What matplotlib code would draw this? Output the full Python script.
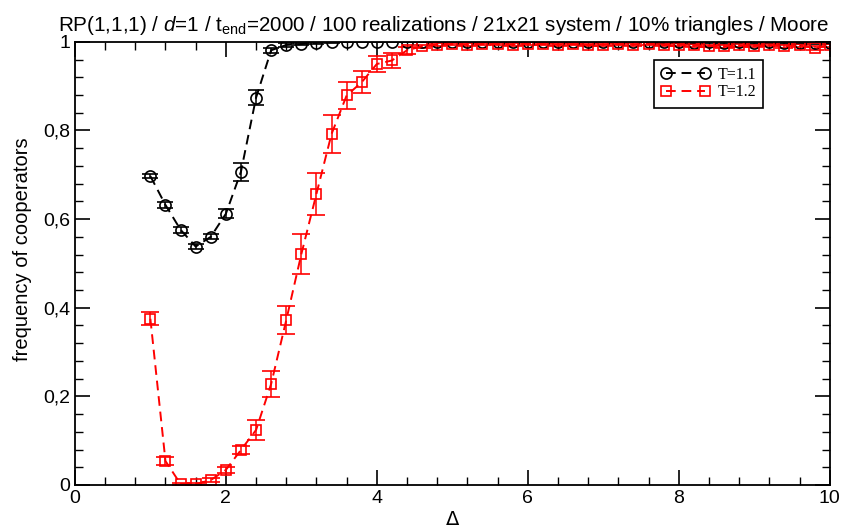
import matplotlib
matplotlib.use('Agg')
import matplotlib.pyplot as plt
from matplotlib.lines import Line2D
from matplotlib.ticker import MultipleLocator, FuncFormatter
from matplotlib import font_manager

names = {f.name for f in font_manager.fontManager.ttflist}
sans = 'Liberation Sans Narrow' if 'Liberation Sans Narrow' in names else 'Liberation Sans'
plt.rcParams['font.family'] = [sans, 'DejaVu Sans']
plt.rcParams['mathtext.fontset'] = 'custom'
plt.rcParams['mathtext.rm'] = sans
plt.rcParams['mathtext.it'] = sans + ':italic'

# Delta values (same grid for both series)
delta = [1.0, 1.2, 1.4, 1.6, 1.8, 2.0, 2.2, 2.4, 2.6, 2.8,
         3.0, 3.2, 3.4, 3.6, 3.8, 4.0, 4.2, 4.4, 4.6, 4.8,
         5.0, 5.2, 5.4, 5.6, 5.8, 6.0, 6.2, 6.4, 6.6, 6.8,
         7.0, 7.2, 7.4, 7.6, 7.8, 8.0, 8.2, 8.4, 8.6, 8.8,
         9.0, 9.2, 9.4, 9.6, 9.8, 10.0]

# T = 1.1
coop_t11 = [0.697, 0.632, 0.576, 0.538, 0.560, 0.612, 0.707, 0.874, 0.981, 0.993,
            0.995, 0.998, 0.999, 1.0, 1.0, 1.0, 1.0, 1.0, 1.0, 1.0,
            1.0, 1.0, 1.0, 1.0, 1.0, 1.0, 1.0, 1.0, 1.0, 1.0,
            1.0, 1.0, 1.0, 1.0, 0.999, 0.999, 0.998, 0.999, 0.998, 0.999,
            0.998, 0.999, 0.998, 0.998, 0.997, 0.997]
err_t11 = [0.005, 0.006, 0.007, 0.006, 0.006, 0.010, 0.020, 0.017, 0.005, 0.004,
           0.003, 0.002, 0.002, 0.001, 0.001, 0.001, 0.001, 0.001, 0.001, 0.001,
           0.001, 0.001, 0.001, 0.001, 0.001, 0.001, 0.001, 0.001, 0.001, 0.001,
           0.001, 0.001, 0.001, 0.001, 0.002, 0.002, 0.002, 0.002, 0.002, 0.002,
           0.002, 0.002, 0.002, 0.002, 0.002, 0.002]

# T = 1.2
coop_t12 = [0.375, 0.054, 0.002, 0.002, 0.011, 0.034, 0.079, 0.124, 0.228, 0.372,
            0.521, 0.657, 0.792, 0.879, 0.909, 0.950, 0.958, 0.981, 0.990, 0.994,
            0.995, 0.994, 0.995, 0.995, 0.994, 0.996, 0.995, 0.994, 0.995, 0.993,
            0.994, 0.995, 0.994, 0.996, 0.993, 0.994, 0.992, 0.991, 0.990, 0.992,
            0.991, 0.993, 0.990, 0.992, 0.986, 0.992]
err_t12 = [0.015, 0.009, 0.002, 0.002, 0.004, 0.007, 0.010, 0.022, 0.029, 0.032,
           0.046, 0.047, 0.042, 0.031, 0.025, 0.017, 0.018, 0.008, 0.004, 0.003,
           0.003, 0.003, 0.003, 0.003, 0.003, 0.003, 0.003, 0.003, 0.003, 0.003,
           0.003, 0.003, 0.003, 0.003, 0.003, 0.003, 0.003, 0.003, 0.003, 0.003,
           0.003, 0.003, 0.003, 0.003, 0.004, 0.003]

fig = plt.figure(figsize=(8.51, 5.30), dpi=100)
ax = fig.add_axes([0.088, 0.085, 0.887, 0.836])

dash = (0, (5, 3))
ax.errorbar(delta, coop_t11, yerr=err_t11, color='black', ls=dash, lw=1.4,
            marker='o', ms=8, mfc='none', mec='black', mew=1.2,
            ecolor='black', elinewidth=1.1, capsize=6, capthick=1.1)
ax.errorbar(delta, coop_t12, yerr=err_t12, color='red', ls=dash, lw=1.4,
            marker='s', ms=7, mfc='none', mec='red', mew=1.2,
            ecolor='red', elinewidth=1.1, capsize=6.5, capthick=1.1)

ax.set_xlim(0, 10)
ax.set_ylim(0, 1)
ax.xaxis.set_major_locator(MultipleLocator(2))
ax.xaxis.set_minor_locator(MultipleLocator(0.4))
ax.yaxis.set_major_locator(MultipleLocator(0.2))
ax.yaxis.set_minor_locator(MultipleLocator(0.04))


def comma(v, pos):
    s = '%g' % round(v, 2)
    return s.replace('.', ',')


ax.yaxis.set_major_formatter(FuncFormatter(comma))
ax.tick_params(which='both', direction='in', top=True, right=True, labelsize=14)
ax.tick_params(which='major', length=11, width=1.2)
ax.tick_params(which='minor', length=5.5, width=1.0)
for sp in ax.spines.values():
    sp.set_linewidth(1.3)

ax.set_xlabel('Δ', fontsize=14, labelpad=2, family=['DejaVu Sans'])
ax.set_ylabel('frequency of cooperators', fontsize=14.5)
ax.yaxis.set_label_coords(-0.057, 0.533)
ax.set_title(r'RP(1,1,1) / $\it{d}$=1 / t$_{\rm end}$=2000 / 100 realizations / 21x21 system / 10% triangles / Moore',
             fontsize=14.9, pad=8, x=0.488)

handles = [
    Line2D([], [], color='black', ls=dash, lw=1.4, marker='o', ms=8, mfc='none', mew=1.2),
    Line2D([], [], color='red', ls=dash, lw=1.4, marker='s', ms=7, mfc='none', mew=1.2),
]
leg = ax.legend(handles, ['T=1.1', 'T=1.2'], loc='upper right', bbox_to_anchor=(0.912, 0.96),
                borderaxespad=0, numpoints=2, handlelength=3.0, fancybox=False,
                edgecolor='black', framealpha=1, borderpad=0.45, labelspacing=0.1,
                handletextpad=0.5, prop={'family': 'Liberation Serif', 'size': 11.5})
leg.get_frame().set_linewidth(1.2)

fig.savefig('out.png', dpi=100)
